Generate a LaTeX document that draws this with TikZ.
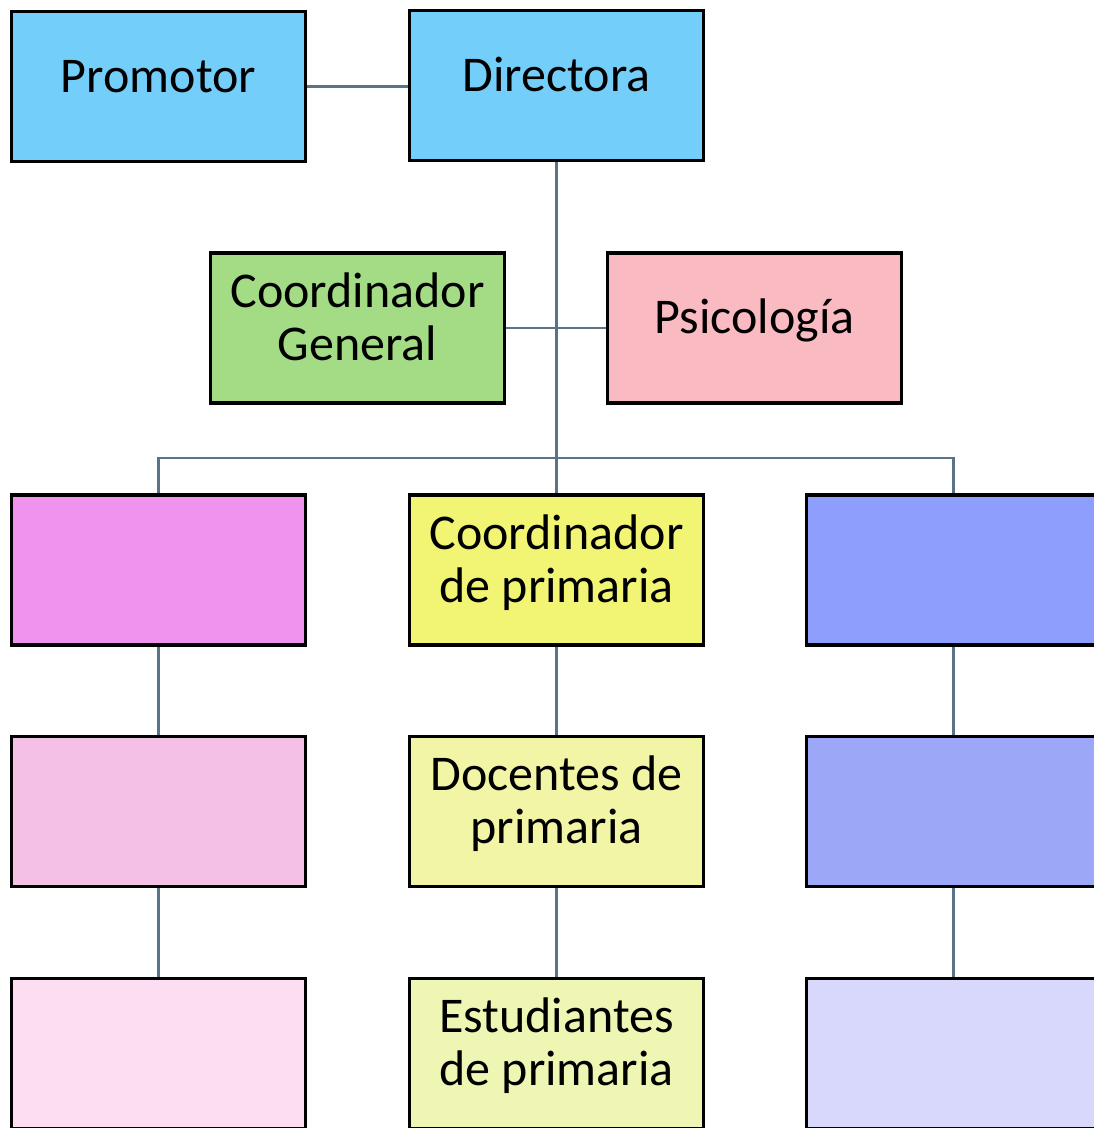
\documentclass[tikz,border=0pt]{standalone}
\usepackage{fontspec}
\setmainfont{Carlito}
\definecolor{conn}{HTML}{5B7386}
\definecolor{cblue}{HTML}{73CFFA}
\definecolor{cgreen}{HTML}{A3DC85}
\definecolor{cpink}{HTML}{FABAC2}
\definecolor{cmag}{HTML}{F093EE}
\definecolor{cyel}{HTML}{F2F574}
\definecolor{cvio}{HTML}{8E9EFC}
\definecolor{cpink2}{HTML}{F4C0E6}
\definecolor{cyel2}{HTML}{F1F5A5}
\definecolor{cvio2}{HTML}{9DA7F7}
\definecolor{cpink3}{HTML}{FCDDF2}
\definecolor{cyel3}{HTML}{EFF5B2}
\definecolor{cvio3}{HTML}{D7D8FC}
\newcommand\boxtxt[1]{\raisebox{5pt}[\height][\depth]{\begin{tabular}{@{}c@{}}#1\end{tabular}}}
\tikzset{
  box/.style={draw=black, line width=3.5pt, minimum width=294pt, minimum height=150pt,
    inner sep=0pt, font=\fontsize{50}{53}\selectfont, text=black},
  link/.style={draw=conn, line width=2.4pt}
}
\begin{document}
\begin{tikzpicture}[x=1pt,y=-1pt]
\useasboundingbox (0,0) rectangle (1094,1128);
\clip (0,0) rectangle (1094,1128);
\node[box, fill=cblue] (prom) at (158.5,86.5) {\boxtxt{Promotor}};
\node[box, fill=cblue] (dir) at (556.5,85.5) {\boxtxt{Directora}};
\node[box, fill=cgreen] (cg) at (357.5,328) {\boxtxt{Coordinador\\General}};
\node[box, fill=cpink] (psi) at (754.5,328) {\boxtxt{Psicología}};
\node[box, fill=cmag] (l1) at (158.5,570) {};
\node[box, fill=cyel] (c1) at (556.5,570) {\boxtxt{Coordinador\\de primaria}};
\node[box, fill=cvio] (r1) at (953.5,570) {};
\node[box, fill=cpink2] (l2) at (158.5,811.5) {};
\node[box, fill=cyel2] (c2) at (556.5,811.5) {\boxtxt{Docentes de\\primaria}};
\node[box, fill=cvio2] (r2) at (953.5,811.5) {};
\node[box, fill=cpink3] (l3) at (158.5,1053.5) {};
\node[box, fill=cyel3] (c3) at (556.5,1053.5) {\boxtxt{Estudiantes\\de primaria}};
\node[box, fill=cvio3] (r3) at (953.5,1053.5) {};
\coordinate (bus) at (556.5,458);
\path[link] (prom.east) -- (prom.east -| dir.west);
\path[link] (dir.south) -- (c1.north);
\path[link] (cg.east) -- (psi.west);
\path[link] (l1.north) |- (bus) -| (r1.north);
\path[link] (l1.south) -- (l2.north);
\path[link] (l2.south) -- (l3.north);
\path[link] (c1.south) -- (c2.north);
\path[link] (c2.south) -- (c3.north);
\path[link] (r1.south) -- (r2.north);
\path[link] (r2.south) -- (r3.north);
\end{tikzpicture}
\end{document}
